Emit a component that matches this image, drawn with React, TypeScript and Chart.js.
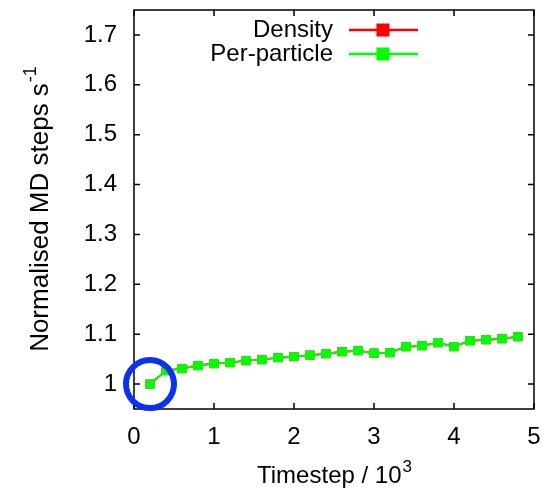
import React, { useEffect, useRef } from "react";
import { Chart, registerables } from "chart.js";
Chart.register(...registerables);

const timesteps = [0.2, 0.4, 0.6, 0.8, 1.0, 1.2, 1.4, 1.6, 1.8, 2.0, 2.2, 2.4, 2.6, 2.8, 3.0, 3.2, 3.4, 3.6, 3.8, 4.0, 4.2, 4.4, 4.6, 4.8];
const perParticle = [1.0, 1.027, 1.031, 1.037, 1.041, 1.043, 1.047, 1.049, 1.053, 1.055, 1.058, 1.061, 1.065, 1.067, 1.062, 1.063, 1.075, 1.077, 1.083, 1.075, 1.087, 1.089, 1.091, 1.095];
const density = [1.0, 1.027, 1.031, 1.037, 1.041, 1.043, 1.047, 1.049, 1.053, 1.055, 1.058, 1.061, 1.065, 1.067, 1.062, 1.063, 1.075, 1.077, 1.083, 1.075, 1.087, 1.089, 1.091, 1.095];
const highlightX = [0.2];
const highlightY = [1.0];
const xTicks = [0, 1, 2, 3, 4, 5];
const yTicks = [1, 1.1, 1.2, 1.3, 1.4, 1.5, 1.6, 1.7];
const seriesNames = ["Density", "Per-particle"];
const seriesColors = ["#ff0000", "#00ff00"];
const xTitle = "Timestep / 10";
const xTitleSup = "3";
const yTitle = "Normalised MD steps s";
const yTitleSup = "-1";

const FONT = "'Liberation Sans', Arial, Helvetica, sans-serif";

const framePlugin = {
  id: "frame",
  beforeDatasetsDraw(chart: any) {
    const { ctx, chartArea: a, scales } = chart;
    ctx.save();
    ctx.strokeStyle = "#000";
    ctx.lineWidth = 1.5;
    ctx.strokeRect(a.left, a.top, a.right - a.left, a.bottom - a.top);
    const tl = 6;
    ctx.beginPath();
    for (const v of xTicks) {
      const px = scales.x.getPixelForValue(v);
      ctx.moveTo(px, a.bottom);
      ctx.lineTo(px, a.bottom - tl);
      ctx.moveTo(px, a.top);
      ctx.lineTo(px, a.top + tl);
    }
    for (const v of yTicks) {
      const py = scales.y.getPixelForValue(v);
      ctx.moveTo(a.left, py);
      ctx.lineTo(a.left + tl, py);
      ctx.moveTo(a.right, py);
      ctx.lineTo(a.right - tl, py);
    }
    ctx.stroke();
    ctx.restore();
  },
  afterDraw(chart: any) {
    const { ctx, chartArea: a } = chart;
    ctx.save();
    ctx.fillStyle = "#000";
    // legend
    ctx.font = `24px ${FONT}`;
    ctx.textAlign = "right";
    ctx.textBaseline = "middle";
    const rows = [a.top + 20, a.top + 44];
    seriesNames.forEach((name, i) => {
      const y = rows[i];
      ctx.fillStyle = "#000";
      ctx.fillText(name, a.right - 201, y);
      ctx.strokeStyle = seriesColors[i];
      ctx.lineWidth = 2.5;
      ctx.beginPath();
      ctx.moveTo(a.right - 185, y);
      ctx.lineTo(a.right - 116, y);
      ctx.stroke();
      ctx.fillStyle = seriesColors[i];
      ctx.fillRect(a.right - 151 - 6.5, y - 6.5, 13, 13);
    });
    // x title
    ctx.fillStyle = "#000";
    ctx.textAlign = "left";
    ctx.textBaseline = "alphabetic";
    ctx.font = `24px ${FONT}`;
    const wMain = ctx.measureText(xTitle).width;
    ctx.font = `17px ${FONT}`;
    const wSup = ctx.measureText(xTitleSup).width;
    const cx = (a.left + a.right) / 2;
    const x0 = cx - (wMain + wSup) / 2;
    const base = 483;
    ctx.font = `24px ${FONT}`;
    ctx.fillText(xTitle, x0, base);
    ctx.font = `17px ${FONT}`;
    ctx.fillText(xTitleSup, x0 + wMain + 1, base - 11);
    // y title
    ctx.save();
    const cy = (a.top + a.bottom) / 2;
    ctx.translate(48, cy);
    ctx.rotate(-Math.PI / 2);
    ctx.font = `26px ${FONT}`;
    const wy = ctx.measureText(yTitle).width;
    ctx.font = `18px ${FONT}`;
    const wys = ctx.measureText(yTitleSup).width;
    const y0 = -(wy + wys) / 2;
    ctx.font = `26px ${FONT}`;
    ctx.fillText(yTitle, y0, 0);
    ctx.font = `18px ${FONT}`;
    ctx.fillText(yTitleSup, y0 + wy + 1, -12);
    ctx.restore();
    ctx.restore();
  },
};

export default function App() {
  const ref = useRef<HTMLCanvasElement | null>(null);
  useEffect(() => {
    if (!ref.current) return;
    const toPts = (ys: number[]) => timesteps.map((x, i) => ({ x, y: ys[i] }));
    const chart = new Chart(ref.current, {
      type: "line",
      data: {
        datasets: [
          {
            label: "highlight",
            data: highlightX.map((x, i) => ({ x, y: highlightY[i] })),
            showLine: false,
            pointRadius: 24,
            pointBorderWidth: 6,
            pointBorderColor: "#0a32f0",
            pointBackgroundColor: "rgba(0,0,0,0)",
            clip: false,
            order: 0,
          } as any,
          {
            label: seriesNames[1],
            data: toPts(perParticle),
            borderColor: seriesColors[1],
            backgroundColor: seriesColors[1],
            borderWidth: 2,
            pointStyle: "rect",
            pointRadius: 6.5,
            pointBorderWidth: 0,
            pointBackgroundColor: seriesColors[1],
            order: 1,
          },
          {
            label: seriesNames[0],
            data: toPts(density),
            borderColor: seriesColors[0],
            backgroundColor: seriesColors[0],
            borderWidth: 2,
            pointStyle: "rect",
            pointRadius: 6.5,
            pointBorderWidth: 0,
            pointBackgroundColor: seriesColors[0],
            order: 2,
          },
        ],
      },
      options: {
        animation: false,
        responsive: false,
        maintainAspectRatio: false,
        layout: { autoPadding: false, padding: { top: 10, right: 9, left: 0, bottom: 0 } },
        plugins: { legend: { display: false }, tooltip: { enabled: false } },
        scales: {
          x: {
            type: "linear",
            min: 0,
            max: 5,
            grid: { display: false, drawTicks: false },
            border: { display: false },
            ticks: {
              font: { size: 24, family: FONT },
              color: "#000",
              padding: 14,
              maxRotation: 0,
              callback: (v: any) => String(v),
            },
            afterBuildTicks: (s: any) => {
              s.ticks = xTicks.map((v) => ({ value: v }));
            },
            afterFit: (s: any) => {
              s.height = 82;
              s.paddingLeft = 0;
              s.paddingRight = 0;
            },
          },
          y: {
            type: "linear",
            min: 0.95,
            max: 1.75,
            grid: { display: false, drawTicks: false },
            border: { display: false },
            ticks: {
              font: { size: 24, family: FONT },
              color: "#000",
              padding: 17,
              callback: (v: any) => String(Math.round(v * 10) / 10),
            },
            afterBuildTicks: (s: any) => {
              s.ticks = yTicks.map((v) => ({ value: v }));
            },
            afterFit: (s: any) => {
              s.width = 134;
              s.paddingTop = 0;
              s.paddingBottom = 0;
            },
          },
        },
      },
      plugins: [framePlugin],
    });
    return () => chart.destroy();
  }, []);
  return (
    <div style={{ position: "fixed", left: 0, top: 0, width: 543, height: 491, background: "#fff" }}>
      <canvas ref={ref} width={543} height={491} style={{ width: 543, height: 491 }} />
    </div>
  );
}
